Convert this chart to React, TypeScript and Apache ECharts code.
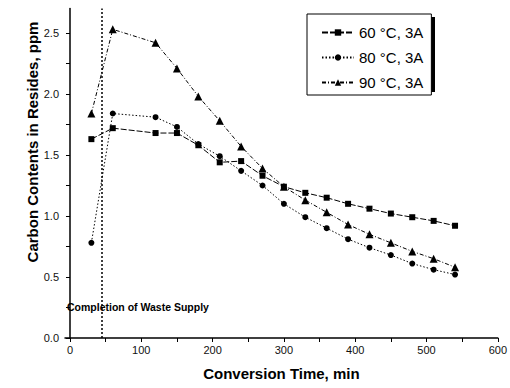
import React, { useEffect, useRef } from "react";
import * as echarts from "echarts";

const times = [30, 60, 120, 150, 180, 210, 240, 270, 300, 330, 360, 390, 420, 450, 480, 510, 540];
const s60 = [1.63, 1.72, 1.68, 1.68, 1.58, 1.44, 1.45, 1.33, 1.24, 1.19, 1.15, 1.1, 1.06, 1.02, 0.99, 0.96, 0.92];
const s80 = [0.78, 1.84, 1.81, 1.73, 1.59, 1.49, 1.37, 1.25, 1.1, 0.99, 0.9, 0.81, 0.74, 0.68, 0.61, 0.56, 0.52];
const s90 = [1.84, 2.53, 2.42, 2.21, 1.98, 1.78, 1.57, 1.39, 1.24, 1.13, 1.03, 0.93, 0.85, 0.78, 0.71, 0.65, 0.58];
const seriesNames = ["60 °C, 3A", "80 °C, 3A", "90 °C, 3A"];
const xLabels = [0, 100, 200, 300, 400, 500, 600];
const xTicks = [0, 50, 100, 150, 200, 250, 300, 350, 400, 450, 500, 550, 600];
const yLabels = [0, 0.5, 1.0, 1.5, 2.0, 2.5];
const yTicks = [0, 0.25, 0.5, 0.75, 1.0, 1.25, 1.5, 1.75, 2.0, 2.25, 2.5];
const supplyEnd = 45;
const annotation = "Completion of Waste Supply";

const pair = (xs: number[], ys: number[]) => xs.map((x, i) => [x, ys[i]]);

export default function App() {
  const ref = useRef<HTMLDivElement>(null);
  useEffect(() => {
    const chart = echarts.init(ref.current!, null, { renderer: "svg" });
    const font = "Liberation Sans, Arial, sans-serif";
    const common = {
      type: "line",
      color: "#000",
      itemStyle: { color: "#000" },
    };
    chart.setOption({
      animation: false,
      backgroundColor: "#fff",
      textStyle: { fontFamily: font },
      grid: { left: 65, right: 12, top: 8.6, bottom: 50 },
      xAxis: {
        type: "value",
        min: -7,
        max: 600,
        name: "Conversion Time, min",
        nameLocation: "middle",
        nameGap: 28,
        nameTextStyle: { fontSize: 15, fontWeight: "bold", color: "#000", fontFamily: font },
        axisLine: { lineStyle: { color: "#000", width: 1.5 } },
        axisTick: { show: true, customValues: xTicks, length: 4, lineStyle: { color: "#000" } },
        axisLabel: { customValues: xLabels, fontSize: 11, color: "#111", margin: 6 },
        splitLine: { show: false },
      },
      yAxis: {
        type: "value",
        min: 0,
        max: 2.7,
        axisLine: { show: true, lineStyle: { color: "#000", width: 1.5 } },
        axisTick: { show: true, customValues: yTicks, length: 4, lineStyle: { color: "#000" } },
        axisLabel: {
          customValues: yLabels,
          fontSize: 11,
          color: "#111",
          margin: 6,
          formatter: (v: number) => v.toFixed(1),
        },
        splitLine: { show: false },
      },
      legend: {
        orient: "vertical",
        left: 307,
        top: 14,
        width: 123,
        padding: [11, 8, 5, 14],
        itemWidth: 32,
        itemHeight: 8,
        itemGap: 10,
        backgroundColor: "#fff",
        borderColor: "#000",
        borderWidth: 1,
        textStyle: { fontSize: 15, color: "#000", fontFamily: font },
        data: seriesNames,
      },
      graphic: [
        {
          type: "rect",
          shape: { x: 310, y: 17, width: 125, height: 75 },
          style: { fill: "#000" },
          z: 0,
        },
        {
          type: "text",
          x: 67,
          y: 307,
          style: {
            text: annotation,
            fontSize: 10.5,
            fontWeight: "bold",
            fontFamily: font,
            fill: "#000",
            textVerticalAlign: "middle",
          },
        },
        {
          type: "text",
          x: 32,
          y: 142,
          rotation: Math.PI / 2,
          style: {
            text: "Carbon Contents in Resides, ppm",
            fontSize: 15,
            fontWeight: "bold",
            fontFamily: font,
            fill: "#000",
            textAlign: "center",
            textVerticalAlign: "middle",
          },
        },
      ],
      series: [
        {
          ...common,
          name: seriesNames[0],
          data: pair(times, s60),
          symbol: "rect",
          symbolSize: 6,
          lineStyle: { color: "#000", width: 1, type: [6, 2] },
          markLine: {
            silent: true,
            symbol: "none",
            label: { show: false },
            lineStyle: { color: "#000", width: 1.5, type: [2, 2] },
            data: [{ xAxis: supplyEnd }],
          },
        },
        {
          ...common,
          name: seriesNames[1],
          data: pair(times, s80),
          symbol: "circle",
          symbolSize: 6,
          lineStyle: { color: "#000", width: 1, type: [1.5, 2] },
        },
        {
          ...common,
          name: seriesNames[2],
          data: pair(times, s90),
          symbol: "triangle",
          symbolSize: 8,
          lineStyle: { color: "#000", width: 1, type: [4, 2, 1, 2] },
        },
      ],
    });
    return () => chart.dispose();
  }, []);
  return <div ref={ref} style={{ width: 510, height: 388, position: "absolute", left: 0, top: 0 }} />;
}
